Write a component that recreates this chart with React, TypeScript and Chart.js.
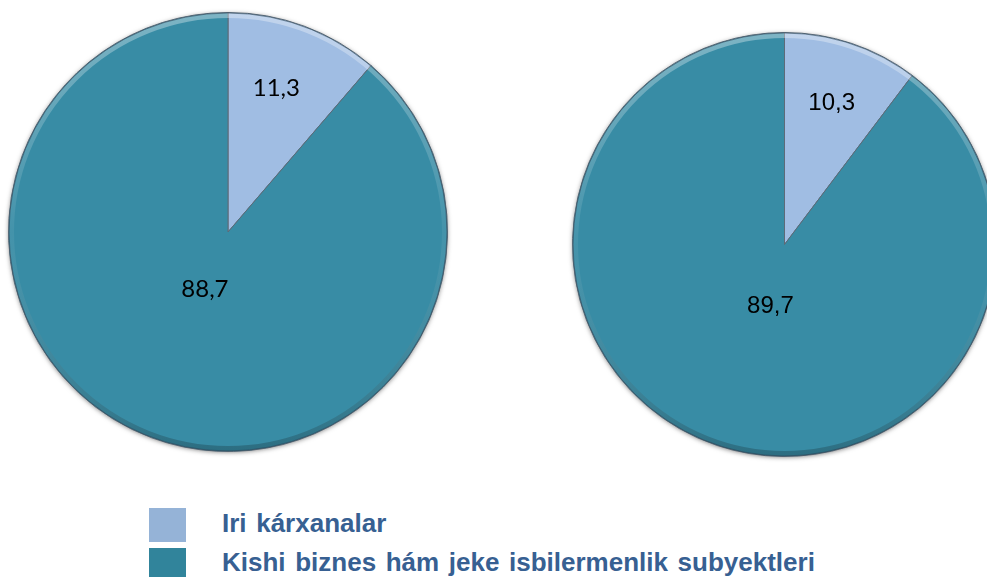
import React, { useEffect, useRef } from "react";
import { Chart, registerables } from "chart.js";

Chart.register(...registerables);

// ---- Data ----
const categories = ["Iri kárxanalar", "Kishi biznes hám jeke isbilermenlik subyektleri"];
const leftValues = [11.3, 88.7];
const rightValues = [10.3, 89.7];
const leftLabels = ["11,3", "88,7"];
const rightLabels = ["10,3", "89,7"];

// ---- Styles ----
const sliceColors = ["#A0BDE3", "#388CA5"];
const legendColors = ["#95B3D7", "#31849B"];
const legendTextColor = "#376092";

const decoPlugin = {
  id: "pieDeco",
  beforeDatasetsDraw(chart: any) {
    const arc = chart.getDatasetMeta(0).data[0];
    if (!arc) return;
    const { x, y, outerRadius } = arc;
    const ctx = chart.ctx;
    ctx.save();
    ctx.shadowColor = "rgba(0,0,0,0.55)";
    ctx.shadowBlur = 5;
    ctx.shadowOffsetY = 1;
    ctx.fillStyle = sliceColors[1];
    ctx.beginPath();
    ctx.arc(x, y, outerRadius - 0.5, 0, Math.PI * 2);
    ctx.fill();
    ctx.restore();
  },
  afterDatasetsDraw(chart: any, _args: any, opts: any) {
    const meta = chart.getDatasetMeta(0);
    const ctx = chart.ctx;
    const a0 = meta.data[0];
    if (!a0) return;
    const { x, y, outerRadius } = a0;
    // bevel rim: light on top, darker at bottom
    ctx.save();
    const g = ctx.createLinearGradient(x, y - outerRadius, x, y + outerRadius);
    g.addColorStop(0, "rgba(255,255,255,0.35)");
    g.addColorStop(0.5, "rgba(255,255,255,0.06)");
    g.addColorStop(1, "rgba(0,0,0,0.22)");
    ctx.strokeStyle = g;
    ctx.lineWidth = 5;
    ctx.beginPath();
    ctx.arc(x, y, outerRadius - 3, 0, Math.PI * 2);
    ctx.stroke();
    ctx.strokeStyle = "rgba(40,70,90,0.55)";
    ctx.lineWidth = 1;
    ctx.beginPath();
    ctx.arc(x, y, outerRadius - 0.5, 0, Math.PI * 2);
    ctx.stroke();
    ctx.restore();

    // value labels
    ctx.save();
    ctx.font = opts.font;
    ctx.fillStyle = "#000000";
    ctx.textAlign = "center";
    ctx.textBaseline = "middle";
    meta.data.forEach((arc: any, i: number) => {
      const mid = (arc.startAngle + arc.endAngle) / 2 + (opts.shift[i] || 0);
      const r = arc.outerRadius * opts.fractions[i];
      ctx.fillText(opts.texts[i], arc.x + Math.cos(mid) * r, arc.y + Math.sin(mid) * r);
    });
    ctx.restore();
  },
};

function PieCanvas(props: {
  values: number[];
  texts: string[];
  size: number;
  left: number;
  top: number;
  font: string;
  fractions: number[];
  shift: number[];
}) {
  const ref = useRef<HTMLCanvasElement | null>(null);
  useEffect(() => {
    if (!ref.current) return;
    const chart = new Chart(ref.current, {
      type: "pie",
      data: {
        labels: categories,
        datasets: [
          {
            data: props.values,
            backgroundColor: sliceColors,
            borderColor: "#5d6b78",
            borderWidth: 1,
          },
        ],
      },
      options: {
        responsive: false,
        animation: false,
        layout: { padding: 6 },
        plugins: {
          legend: { display: false },
          tooltip: { enabled: false },
          pieDeco: {
            font: props.font,
            texts: props.texts,
            fractions: props.fractions,
            shift: props.shift,
          },
        } as any,
      },
      plugins: [decoPlugin],
    });
    return () => chart.destroy();
  }, []);
  return (
    <canvas
      ref={ref}
      width={props.size}
      height={props.size}
      style={{
        position: "absolute",
        left: props.left,
        top: props.top,
        width: props.size,
        height: props.size,
      }}
    />
  );
}

export default function App() {
  const textStyle: React.CSSProperties = {
    position: "absolute",
    left: 222,
    fontFamily: "'Liberation Sans', Arial, sans-serif",
    fontWeight: "bold",
    fontSize: 26,
    lineHeight: "26px",
    wordSpacing: "2.4px",
    color: legendTextColor,
    whiteSpace: "nowrap",
  };
  return (
    <div
      style={{
        position: "fixed",
        left: 0,
        top: 0,
        width: 987,
        height: 577,
        overflow: "hidden",
        background: "#ffffff",
      }}
    >
      <PieCanvas
        values={leftValues}
        texts={leftLabels}
        size={452}
        left={2}
        top={6}
        font="24px Lato, 'Open Sans', sans-serif"
        fractions={[0.69, 0.28]}
        shift={[-0.03, 0.03]}
      />
      <PieCanvas
        values={rightValues}
        texts={rightLabels}
        size={437}
        left={565.5}
        top={26}
        font="24px 'Liberation Sans', Arial, sans-serif"
        fractions={[0.7, 0.3]}
        shift={[0, -0.1]}
      />
      <div style={{ position: "absolute", left: 149, top: 508, width: 37, height: 34, background: legendColors[0] }} />
      <div style={{ position: "absolute", left: 149, top: 548, width: 37, height: 34, background: legendColors[1] }} />
      <div style={{ ...textStyle, top: 510 }}>{categories[0]}</div>
      <div style={{ ...textStyle, top: 549 }}>{categories[1]}</div>
    </div>
  );
}
